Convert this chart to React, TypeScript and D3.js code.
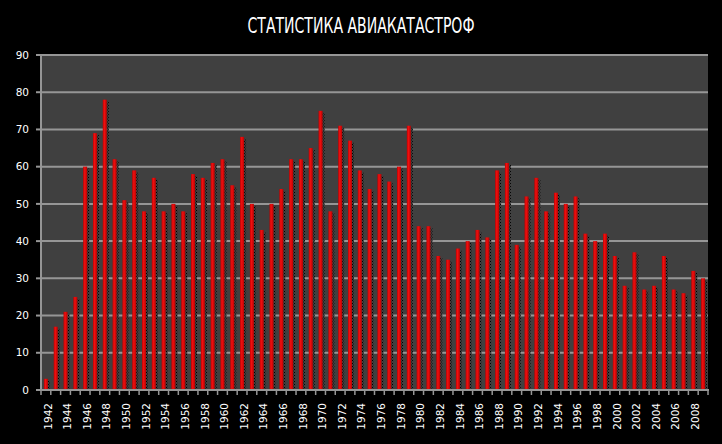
import React from "react";
import * as d3 from "d3";

const years: number[] = d3.range(1942, 2010);
const values: number[] = [
  3, 17, 21, 25, 60, 69, 78, 62, 51, 59,
  48, 57, 48, 50, 48, 58, 57, 61, 62, 55,
  68, 50, 43, 50, 54, 62, 62, 65, 75, 48,
  71, 67, 59, 54, 58, 56, 60, 71, 44, 44,
  36, 35, 38, 40, 43, 41, 59, 61, 39, 52,
  57, 48, 53, 50, 52, 42, 40, 42, 36, 28,
  37, 27, 28, 36, 27, 26, 32, 30,
];
const yTicks: number[] = [0, 10, 20, 30, 40, 50, 60, 70, 80, 90];
const title = "СТАТИСТИКА АВИАКАТАСТРОФ";

const W = 722;
const H = 444;
const left = 41;
const right = 708;
const top = 55;
const bottom = 390;

export default function App() {
  const x = d3
    .scaleBand<number>()
    .domain(years)
    .range([left, right])
    .paddingInner(0)
    .paddingOuter(0);
  const y = d3.scaleLinear().domain([0, 90]).range([bottom, top]);
  const bw = x.bandwidth();
  const barW = 4;

  return (
    <svg
      width={W}
      height={H}
      style={{ position: "absolute", left: 0, top: 0, background: "#000" }}
      fontFamily="DejaVu Sans, Verdana, sans-serif"
    >
      <defs>
        <pattern id="dots" width="2" height="3" patternUnits="userSpaceOnUse">
          <rect width="2" height="3" fill="#404040" />
          <rect width="1" height="1" fill="#000" />
          <rect x="1" y="1.5" width="1" height="1" fill="#101010" />
        </pattern>
        <linearGradient id="barGrad" x1="0" x2="1" y1="0" y2="0">
          <stop offset="0" stopColor="#c00000" />
          <stop offset="0.4" stopColor="#f01010" />
          <stop offset="1" stopColor="#b80000" />
        </linearGradient>
      </defs>
      <rect x={0} y={0} width={W} height={H} fill="#000" />
      <text
        x={361}
        y={33}
        fill="#fff"
        fontSize={22}
        textAnchor="middle"
        fontFamily="DejaVu Sans Condensed, Liberation Sans Narrow, sans-serif"
        textLength={227}
        lengthAdjust="spacingAndGlyphs"
      >
        {title}
      </text>
      <rect x={left} y={top} width={right - left} height={bottom - top} fill="#404040" />
      {yTicks.map((t) => (
        <g key={t}>
          {t > 0 && (
            <line x1={left} x2={right} y1={y(t)} y2={y(t)} stroke="#969696" strokeWidth={2} />
          )}
          <line x1={left - 5} x2={left} y1={y(t)} y2={y(t)} stroke="#969696" strokeWidth={2} />
          <text
            x={29}
            y={y(t)}
            dy="0.35em"
            fill="#fff"
            fontSize={10.5}
            textAnchor="end"
          >
            {t}
          </text>
        </g>
      ))}
      {years.map((yr, i) => {
        const v = values[i];
        const cx = (x(yr) as number) + bw / 2;
        const yt = y(v);
        return (
          <g key={yr}>
            <rect x={cx + barW / 2} y={yt + 2} width={2} height={bottom - yt - 2} fill="url(#dots)" />
            <rect x={cx - barW / 2} y={yt} width={barW} height={bottom - yt} fill="url(#barGrad)" />
          </g>
        );
      })}
      <line x1={left} x2={left} y1={top} y2={bottom} stroke="#969696" strokeWidth={2} />
      <line x1={left - 5} x2={right + 1} y1={bottom} y2={bottom} stroke="#969696" strokeWidth={2} />
      {years.map((yr) => (
        <line
          key={"t" + yr}
          x1={x(yr) as number}
          x2={x(yr) as number}
          y1={bottom}
          y2={bottom + 5}
          stroke="#969696"
          strokeWidth={1.5}
        />
      ))}
      <line x1={right} x2={right} y1={bottom} y2={bottom + 5} stroke="#969696" strokeWidth={1.5} />
      {years
        .filter((yr) => (yr - 1942) % 2 === 0)
        .map((yr) => {
          const cx = (x(yr) as number) + bw / 2 + 2;
          return (
            <text
              key={"l" + yr}
              transform={`translate(${cx},403) rotate(-90)`}
              fill="#fff"
              fontSize={10.5}
              textAnchor="end"
              dy="0.35em"
            >
              {yr}
            </text>
          );
        })}
    </svg>
  );
}
